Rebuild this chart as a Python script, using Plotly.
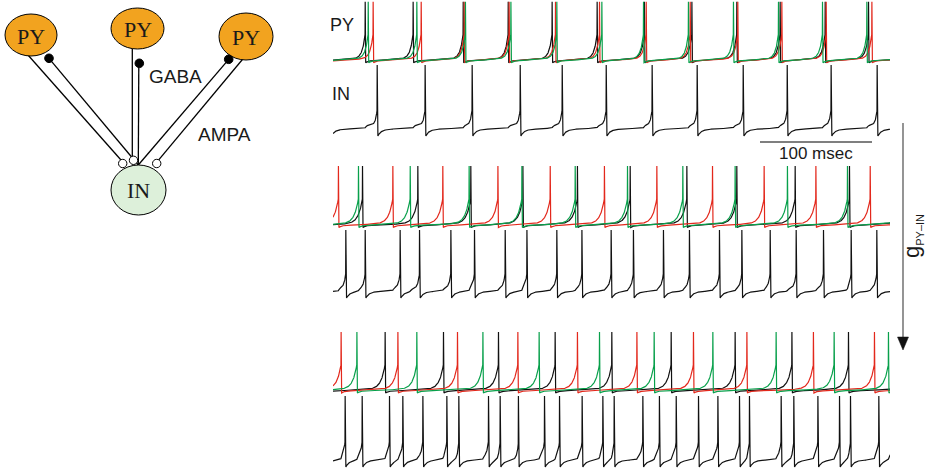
import numpy as np
import plotly.graph_objects as go

W, H = 927, 470
T_END = 497.5  # ms shown in each panel

# ---------------- spike times (ms) ----------------
# weak PY->IN coupling (top panel)
P1_PY_BLACK = [28.6, 71.4, 116.1, 156.3, 195.5, 235.7, 277.9, 320.3, 360.4, 399.1, 439.3, 478.0]
P1_PY_RED = [35.7, 78.6, 117.0, 157.1, 198.5, 237.8, 279.5, 318.8, 361.3, 400.6, 440.2, 481.0]
P1_PY_GREEN = [31.3, 74.7, 118.1, 158.7, 199.7, 239.9, 277.1, 317.2, 357.4, 397.6, 436.9, 476.5]
P1_IN = [39.3, 82.1, 124.1, 167.0, 204.5, 243.8, 284.8, 325.0, 366.1, 405.4, 444.6, 485.7]

# intermediate coupling (middle panel)
P2_PY_BLACK = [26.2, 75.6, 122.9, 169.4, 218.1, 265.2, 315.8, 360.4, 412.5, 461.0]
P2_PY_RED = [4.7, 53.3, 97.9, 147.1, 193.8, 242.2, 289.0, 338.7, 384.8, 431.0, 479.5]
P2_PY_GREEN = [22.6, 68.8, 121.4, 168.5, 216.1, 262.8, 312.2, 358.9, 405.6, 459.2]
P2_IN = [11.3, 28.6, 59.8, 77.1, 105.1, 126.2, 153.6, 173.0, 199.7, 222.1, 248.2,
         268.1, 294.9, 318.1, 344.9, 364.9, 390.2, 413.4, 437.8, 462.5, 485.4]

# strong coupling (bottom panel)
P3_PY_BLACK = [46.4, 98.5, 147.6, 198.2, 248.8, 301.8, 358.9, 409.6, 460.1]
P3_PY_RED = [7.1, 57.8, 111.0, 164.9, 218.1, 271.2, 321.7, 369.4, 428.8, 483.3]
P3_PY_GREEN = [21.2, 74.7, 133.7, 183.9, 237.8, 286.6, 339.0, 395.5, 447.3, 495.8]
P3_IN = [10.7, 25.9, 50.3, 62.2, 80.1, 101.5, 112.2, 138.7, 149.1, 165.4, 188.7, 202.1,
         222.3, 240.8, 250.9, 276.5, 291.3, 306.3, 326.2, 343.5, 362.8, 371.7, 400.0,
         411.3, 432.8, 452.1, 461.9, 487.2]

PANEL_LABELS = ["PY", "IN"]
SCALE_MS = 100
SCALE_LABEL = "100 msec"

BLACK = "#111111"
RED = "#E3281C"
GREEN = "#08A04B"

# membrane potential levels (mV)
PY_RESET, PY_PEAK = -72.0, 30.0
IN_MIN, IN_PLAT, IN_PEAK = -75.0, -63.0, 30.0


def py_wave(spikes, tau):
    sp = sorted(spikes)
    isi = float(np.mean(np.diff(sp)))
    ts, vs = [], []
    prev = sp[0] - isi
    targets = sp + [sp[-1] + isi]
    for i, s in enumerate(targets):
        a, b = max(prev, 0.0), min(s, T_END)
        if b > a:
            t = np.linspace(a, b, max(int((b - a) / 0.15), 3))
            u = t - prev
            v = (PY_RESET + 3 * (1 - np.exp(-u / 2.0)) + 4 * u / (s - prev)
                 + 40 * np.exp(-(s - t) / tau))
            ts += list(t); vs += list(v)
        if i < len(sp) and s <= T_END:
            ts += [s + 0.15, s + 0.6]; vs += [PY_PEAK, PY_RESET]
            prev = s + 0.6
        else:
            break
    return ts, vs


def in_wave(spikes, py_all):
    sp = sorted(spikes)
    isi = float(np.mean(np.diff(sp)))
    py_all = sorted(py_all)
    after = [p for p in py_all if p > sp[-1]]
    tail = after[0] + 4 if after else sp[-1] + isi
    targets = sp + [tail]
    prev = sp[0] - isi
    ts, vs = [], []
    for i, s in enumerate(targets):
        win = [p for p in py_all if prev + 0.5 < p <= s - 0.3 and p >= s - 14]
        te = min(win) if win else s - 4
        a, b = max(prev, 0.0), min(s, T_END)
        if b > a:
            t = np.linspace(a, b, max(int((b - a) / 0.15), 3))
            u = t - prev
            base = IN_PLAT - 8 * np.exp(-u / 2.5) - 4 * np.exp(-u / 15.0)
            step = np.where(t > te, 4 * (1 - np.exp(-(t - te) / 0.8)), 0.0)
            rise = 22 * np.exp(-(s - t) / 1.5)
            ts += list(t); vs += list(base + step + rise)
        if i < len(sp) and s <= T_END:
            ts += [s + 0.15, s + 0.8]; vs += [IN_PEAK, IN_MIN]
            prev = s + 0.8
        else:
            break
    return ts, vs


fig = go.Figure()

# ---- axes for traces: one shared time axis, six rows ----
X0_PX, X1_PX = 333, 890
T_AX = (X1_PX - X0_PX) / 1.12  # 112 px per 100 ms


def row_axis(top_px, bot_px, vtop, vbot, pad=3):
    k = (vtop - vbot) / (bot_px - top_px)
    t = max(top_px - pad, 0)
    b = min(bot_px + pad, H)
    return dict(domain=[1 - b / H, 1 - t / H],
                range=[vbot - (b - bot_px) * k, vtop + (top_px - t) * k],
                visible=False, fixedrange=True, anchor="x2")


rows = [
    ("y3", row_axis(1.7, 62.7, PY_PEAK, PY_RESET)),
    ("y4", row_axis(65, 136, IN_PEAK, IN_MIN)),
    ("y5", row_axis(166, 227.5, PY_PEAK, PY_RESET)),
    ("y6", row_axis(230, 298, IN_PEAK, IN_MIN)),
    ("y7", row_axis(332, 393, PY_PEAK, PY_RESET)),
    ("y8", row_axis(396, 467, IN_PEAK, IN_MIN)),
]

panels = [
    (P1_PY_BLACK, P1_PY_RED, P1_PY_GREEN, P1_IN, 2.5, "y3", "y4"),
    (P2_PY_BLACK, P2_PY_RED, P2_PY_GREEN, P2_IN, 3.5, "y5", "y6"),
    (P3_PY_BLACK, P3_PY_RED, P3_PY_GREEN, P3_IN, 3.5, "y7", "y8"),
]

for blk, red, grn, inn, tau, ypy, yin in panels:
    for spikes, col in ((blk, BLACK), (red, RED), (grn, GREEN)):
        t, v = py_wave(spikes, tau)
        fig.add_trace(go.Scatter(x=t, y=v, mode="lines", line=dict(color=col, width=1.2),
                                 xaxis="x2", yaxis=ypy, hoverinfo="skip", showlegend=False))
    t, v = in_wave(inn, blk + red + grn)
    fig.add_trace(go.Scatter(x=t, y=v, mode="lines", line=dict(color=BLACK, width=1.2),
                             xaxis="x2", yaxis=yin, hoverinfo="skip", showlegend=False))

layout_axes = {
    "xaxis": dict(domain=[0, 1], range=[0, W], visible=False, fixedrange=True, anchor="y"),
    "yaxis": dict(domain=[0, 1], range=[H, 0], visible=False, fixedrange=True, anchor="x"),
    "xaxis2": dict(domain=[X0_PX / W, X1_PX / W], range=[0, T_AX], visible=False,
                   fixedrange=True, anchor="y3"),
}
for name, ax in rows:
    layout_axes["yaxis" + name[1:]] = ax

shapes = []
LW = 1.3


def line(x0, y0, x1, y1, color="black", width=LW):
    shapes.append(dict(type="line", xref="x", yref="y", x0=x0, y0=y0, x1=x1, y1=y1,
                       line=dict(color=color, width=width)))


def ellipse(cx, cy, rx, ry, fill, lw=1):
    shapes.append(dict(type="circle", xref="x", yref="y", x0=cx - rx, x1=cx + rx,
                       y0=cy - ry, y1=cy + ry, fillcolor=fill,
                       line=dict(color="black", width=lw)))


# connections
line(20, 46, 121, 160)        # AMPA left
line(49, 58.3, 138.3, 165)     # GABA left
line(132.3, 40, 132.3, 156)    # AMPA middle
line(138.8, 63, 138.3, 165)    # GABA middle
line(228.7, 59.3, 138.3, 165)  # GABA right
line(252, 48, 158.3, 160.3)    # AMPA right

ORANGE = "#F2A31F"
LIGHTGREEN = "#DDF0DA"
ellipse(31, 35, 26, 21, ORANGE)
ellipse(137.5, 28.5, 26.5, 20.5, ORANGE)
ellipse(246, 36.5, 27, 23.5, ORANGE)
ellipse(138.5, 190, 27.5, 25, LIGHTGREEN)

# synapse markers
for cx, cy in ((49, 58.3), (139.3, 63.3), (228.7, 59.3)):
    ellipse(cx, cy, 4.3, 4.3, "black")
for cx, cy in ((122.7, 163.5), (133.5, 160.3), (156.7, 163.5)):
    ellipse(cx, cy, 4.2, 4.2, "white")

# scale bar (in time units)
SB0 = (760 - X0_PX) / 1.12
shapes.append(dict(type="line", xref="x2", yref="paper", x0=SB0, x1=SB0 + SCALE_MS,
                   y0=1 - 142 / H, y1=1 - 142 / H, line=dict(color="#555555", width=1.5)))

# coupling arrow
line(903, 123, 903, 339, color="#7a7a7a", width=1.6)
shapes.append(dict(type="path", xref="x", yref="y", path="M 897.5 337 L 908.5 337 L 903 350 Z",
                   fillcolor="#111111", line=dict(color="#111111", width=0.5)))

SANS = "Liberation Sans, Arial, sans-serif"
SERIF = "Liberation Serif, Times New Roman, serif"
ann = []


def text(x, y, s, size, family=SANS, angle=0, color="#1a1a1a", xref="x", yref="y"):
    ann.append(dict(x=x, y=y, xref=xref, yref=yref, text=s, showarrow=False,
                    xanchor="center", yanchor="middle", textangle=angle,
                    font=dict(family=family, size=size, color=color)))


text(31, 36, "PY", 22, SERIF)
text(137.5, 29, "PY", 22, SERIF)
text(246, 37, "PY", 22, SERIF)
text(138.5, 190, "IN", 22, SERIF)
text(175, 76, "GABA", 19)
text(224.5, 134.5, "AMPA", 19)
text(341.5, 25, PANEL_LABELS[0], 18)
text(340.5, 93.5, PANEL_LABELS[1], 18)
text(SB0 + SCALE_MS / 2, 1 - 153 / H, SCALE_LABEL, 17, xref="x2", yref="paper")
text(912, 236, 'g<sub><span style="font-size:11px">PY–IN</span></sub>', 22, angle=-90)

fig.update_layout(width=W, height=H, margin=dict(l=0, r=0, t=0, b=0),
                  paper_bgcolor="white", plot_bgcolor="rgba(0,0,0,0)",
                  shapes=shapes, annotations=ann, **layout_axes)

fig.write_html("out.html", config={"displayModeBar": False},
               post_script="document.body.style.margin='0';document.body.style.padding='0';")
